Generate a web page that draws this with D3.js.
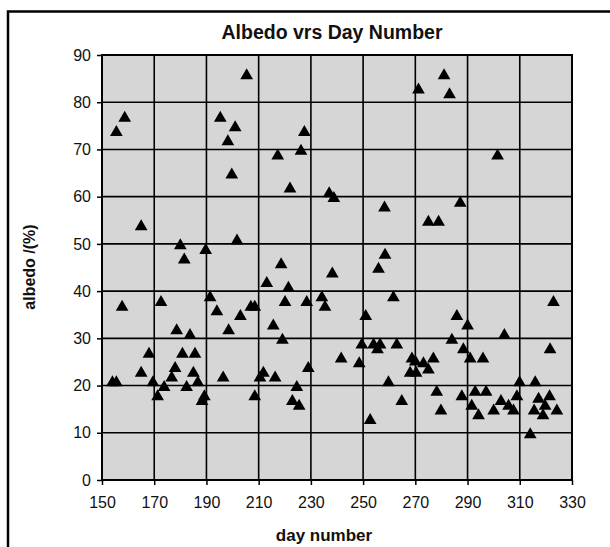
<!DOCTYPE html>
<html>
<head>
<meta charset="utf-8">
<script src="https://cdn.jsdelivr.net/npm/d3@7"></script>
<style>
  body { margin: 0; background: #fff; }
  svg { display: block; }
</style>
</head>
<body>
<svg id="chart" width="610" height="547"></svg>
<script>
// values
const dayNumber = [
  155.5, 158.7, 157.7, 154, 155.5, 165, 165, 168, 169.5, 171.3,
  172.6, 173.8, 176.7, 178, 178.6, 180, 180.8, 181.5, 182.4, 183.7,
  185, 185.6, 186.7, 188.3, 189.2, 189.7, 191.4, 194, 195.3, 196.4,
  198.2, 198.5, 199.7, 201, 201.7, 203, 205.4, 207, 208.5, 208.5,
  210.5, 211.8, 213.1, 215.6, 216.3, 217.3, 218.6, 219.1, 220.1, 221.4,
  222, 222.9, 224.6, 225.5, 226.2, 227.5, 228.4, 229, 234.2, 235.4,
  237, 238.8, 238.2, 241.6, 248.5, 249.5, 251, 252.7, 254, 255.5,
  256.5, 255.9, 258.2, 258.4, 259.7, 261.6, 262.9, 264.8, 268, 268.7,
  270.3, 270, 271.2, 273.1, 275, 276.9, 275, 278.9, 278.2, 279.8,
  281, 283.1, 284, 285.9, 287.2, 287.8, 288.4, 290, 291, 291.6,
  292.9, 294.2, 295.9, 297.1, 300, 301.5, 302.8, 304.1, 305.7, 307.6,
  308.9, 309.9, 314, 315.9, 315.5, 317.2, 318.9, 319.7, 321.4, 321.6,
  322.9, 324.2
];
const albedo = [
  74, 77, 37, 21, 21, 54, 23, 27, 21, 18,
  38, 20, 22, 24, 32, 50, 27, 47, 20, 31,
  23, 27, 21, 17, 18, 49, 39, 36, 77, 22,
  72, 32, 65, 75, 51, 35, 86, 37, 37, 18,
  22, 23, 42, 33, 22, 69, 46, 30, 38, 41,
  62, 17, 20, 16, 70, 74, 38, 24, 39, 37,
  61, 60, 44, 26, 25, 29, 35, 13, 29, 28,
  29, 45, 58, 48, 21, 39, 29, 17, 23, 26,
  23, 25.4, 83, 25, 23.7, 26, 55, 55, 19, 15,
  86, 82, 30, 35, 59, 18, 28, 33, 26, 16,
  19, 14, 26, 19, 15, 69, 17, 31, 16, 15,
  18, 21, 10, 21, 15, 17.5, 14, 16, 18, 28,
  38, 15
];
const xTicks = [150, 170, 190, 210, 230, 250, 270, 290, 310, 330];
const yTicks = [0, 10, 20, 30, 40, 50, 60, 70, 80, 90];

let svg = d3.select("#chart");
let font = "'Liberation Sans', Arial, Helvetica, sans-serif";

let plotLeft = 102, plotRight = 572, plotTop = 55, plotBottom = 480;

let x = d3.scaleLinear().domain([150, 330]).range([plotLeft, plotRight]);
let y = d3.scaleLinear().domain([0, 90]).range([plotBottom, plotTop]);

// outer frame (runs off the right and bottom of the scan)
svg.append("rect")
  .attr("x", 8)
  .attr("y", 11.5)
  .attr("width", 700)
  .attr("height", 700)
  .attr("fill", "none")
  .attr("stroke", "#000")
  .attr("stroke-width", 2.5);

svg.append("text")
  .attr("x", 332)
  .attr("y", 39)
  .attr("text-anchor", "middle")
  .attr("font-family", font)
  .attr("font-weight", "bold")
  .attr("font-size", "19.5px")
  .attr("fill", "#111")
  .text("Albedo vrs Day Number");

// plot background
svg.append("rect")
  .attr("x", plotLeft)
  .attr("y", plotTop)
  .attr("width", plotRight - plotLeft)
  .attr("height", plotBottom - plotTop)
  .attr("fill", "#d6d6d6");

// grid
let grid = svg.append("g").attr("stroke", "#000").attr("stroke-width", 1.6);
grid.selectAll("line.v")
  .data(xTicks)
  .enter()
  .append("line")
  .attr("class", "v")
  .attr("x1", d => x(d))
  .attr("x2", d => x(d))
  .attr("y1", plotTop)
  .attr("y2", plotBottom);
grid.selectAll("line.h")
  .data(yTicks)
  .enter()
  .append("line")
  .attr("class", "h")
  .attr("x1", plotLeft)
  .attr("x2", plotRight)
  .attr("y1", d => y(d))
  .attr("y2", d => y(d));

svg.append("rect")
  .attr("x", plotLeft)
  .attr("y", plotTop)
  .attr("width", plotRight - plotLeft)
  .attr("height", plotBottom - plotTop)
  .attr("fill", "none")
  .attr("stroke", "#000")
  .attr("stroke-width", 2);

// axes
let xAxis = d3.axisBottom(x).tickValues(xTicks).tickSize(5).tickPadding(12);
let yAxis = d3.axisLeft(y).tickValues(yTicks).tickSize(5).tickPadding(6);

let gx = svg.append("g")
  .attr("transform", "translate(0," + plotBottom + ")")
  .call(xAxis);
let gy = svg.append("g")
  .attr("transform", "translate(" + plotLeft + ",0)")
  .call(yAxis);

[gx, gy].forEach(function(g) {
  g.select(".domain").remove();
  g.selectAll(".tick line").attr("stroke", "#000").attr("stroke-width", 1.5);
  g.selectAll(".tick text")
    .attr("font-family", font)
    .attr("font-size", "16px")
    .attr("fill", "#111");
});

// points
let points = dayNumber.map(function(d, i) {
  return { day: d, value: albedo[i] };
});

svg.append("g")
  .selectAll("path")
  .data(points)
  .enter()
  .append("path")
  .attr("d", d3.symbol().type(d3.symbolTriangle).size(70))
  .attr("transform", function(d) {
    return "translate(" + x(d.day) + "," + (y(d.value) + 1.7) + ")";
  })
  .attr("fill", "#000");

// axis titles
svg.append("text")
  .attr("x", 324)
  .attr("y", 541)
  .attr("text-anchor", "middle")
  .attr("font-family", font)
  .attr("font-weight", "bold")
  .attr("font-size", "17px")
  .attr("fill", "#111")
  .text("day number");

svg.append("text")
  .attr("transform", "translate(35,267) rotate(-90)")
  .attr("text-anchor", "middle")
  .attr("font-family", font)
  .attr("font-weight", "bold")
  .attr("font-size", "16px")
  .attr("fill", "#111")
  .text("albedo /(%)");
</script>
</body>
</html>
